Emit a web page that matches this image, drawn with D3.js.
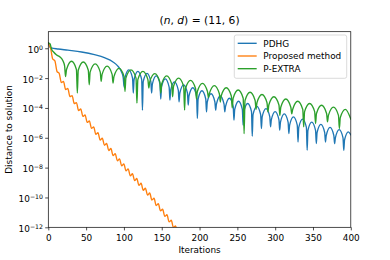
<!DOCTYPE html>
<html><head><meta charset="utf-8">
<script src="https://cdn.jsdelivr.net/npm/d3@7"></script>
<style>body{margin:0;background:#fff} svg{display:block} text{font-family:"DejaVu Sans",sans-serif;fill:#000}</style>
</head><body><svg id="c" width="390" height="260"></svg>
<script>
// ---- data ----
const xTicks = [0, 50, 100, 150, 200, 250, 300, 350, 400];
const yTickExps = [0, -2, -4, -6, -8, -10, -12];
const seriesNames = ["PDHG", "Proposed method", "P-EXTRA"];
const seriesColors = ["#1f77b4", "#ff7f0e", "#2ca02c"];
const xLabel = "Iterations";
const yLabel = "Distance to solution";

// [iteration, log10(distance)]
const pdhgPoints = [
[0,0.36],[1,0.22],[2,0.1],[4,0.02],[13,-0.05],[26,-0.13],[44,-0.25],[61,-0.43],[75,-0.65],[85.6,-0.92],[92,-1.2],[96.5,-1.55],[99,-1.95],
[100.3,-2.6],[101.3,-2.0],[106.35,-1.45],
[111.4,-2.0],[112.4,-3.0],[113.4,-2.1],[118.45,-1.55],
[123.5,-2.1],[124.5,-4.15],[125.5,-2.23],[130.55,-1.68],
[135.6,-2.23],[136.6,-3.0],[137.6,-2.4],[142.65,-1.85],
[147.7,-2.4],[148.7,-3.4],[149.7,-2.6],[154.75,-2.05],
[159.8,-2.6],[160.8,-3.48],[161.8,-2.8],[166.85,-2.25],
[171.9,-2.8],[172.9,-3.59],[173.9,-3.0],[178.95,-2.45],
[184,-3.0],[185,-3.81],[186,-3.2],[191.05,-2.65],
[196.1,-3.2],[197.1,-4.7],[198.1,-3.4],[203.15,-2.85],
[208.2,-3.4],[209.2,-4.26],[210.2,-3.6],[215.25,-3.05],
[220.3,-3.6],[221.3,-4.15],[222.3,-3.75],[227.35,-3.2],
[232.4,-3.75],[233.4,-4.26],[234.4,-3.9],[239.45,-3.35],
[244.5,-3.9],[245.5,-4.82],[246.5,-4.1],[251.55,-3.55],
[256.6,-4.1],[257.6,-5.16],[258.6,-4.25],[263.65,-3.7],
[268.7,-4.25],[269.7,-5.9],[270.7,-4.45],[275.75,-3.9],
[280.8,-4.45],[281.8,-5.38],[282.8,-4.6],[287.85,-4.05],
[292.9,-4.6],[293.9,-5.27],[294.9,-4.8],[299.95,-4.25],
[305,-4.8],[306,-5.49],[307,-4.95],[312.05,-4.4],
[317.1,-4.95],[318.1,-5.72],[319.1,-5.15],[324.15,-4.6],
[329.2,-5.15],[330.2,-6.28],[331.2,-5.3],[336.25,-4.75],
[341.3,-5.3],[342.3,-6.84],[343.3,-5.5],[348.35,-4.95],
[353.4,-5.5],[354.4,-6.39],[355.4,-5.65],[360.45,-5.1],
[365.5,-5.65],[366.5,-6.28],[367.5,-5.85],[372.55,-5.3],
[377.6,-5.85],[378.6,-6.39],[379.6,-6.0],[384.65,-5.45],
[389.7,-6.0],[390.7,-6.84],[391.7,-6.15],[396.75,-5.6],
[400,-5.8]
];

const proposedPoints = [
[0,0.33],[3,0.01],[5.85,-0.72],[8.7,-0.84],[11.55,-1.56],[14.4,-1.68],[17.25,-2.30],[20.1,-2.23],
[22.95,-2.77],[25.8,-2.70],[28.65,-3.24],[31.5,-3.17],[34.35,-3.71],[37.2,-3.64],[40.05,-4.17],[42.9,-4.07],
[45.75,-4.57],[48.6,-4.47],[51.45,-4.97],[54.3,-4.87],[57.15,-5.37],[60,-5.27],[62.85,-5.76],[65.7,-5.66],
[68.55,-6.16],[71.4,-6.03],[74.25,-6.50],[77.1,-6.38],[79.95,-6.85],[82.8,-6.72],[85.65,-7.19],[88.5,-7.06],
[91.35,-7.54],[94.2,-7.41],[97.05,-7.88],[99.9,-7.75],[102.75,-8.22],[105.6,-8.08],[108.45,-8.55],[111.3,-8.41],
[114.15,-8.87],[117,-8.73],[119.85,-9.19],[122.7,-9.05],[125.55,-9.52],[128.4,-9.38],[131.25,-9.84],[134.1,-9.70],
[136.95,-10.17],[139.8,-10.05],[142.65,-10.54],[145.5,-10.42],[148.35,-10.90],[151.2,-10.79],[154.05,-11.27],[156.9,-11.16],
[159.75,-11.64],[162.6,-11.53],[165.45,-12.01],[168.3,-11.90],[171.15,-12.38],[174,-12.26]
];

const pextraPoints = [
[0,0.36],[2.2,0.3],[4.5,-0.08],[7,-0.25],[11,-0.45],[15.5,-0.58],[19.5,-0.85],[21.6,-1.2],
[22.8,-1.9],[24.1,-1.42],[30.7,-0.87],
[37.2,-1.42],[38.4,-3.0],[39.6,-1.47],[46.25,-0.92],
[52.9,-1.47],[54.1,-2.45],[55.3,-1.6],[62,-1.05],
[68.7,-1.6],[69.9,-2.22],[71.1,-1.75],[77.75,-1.2],
[84.4,-1.75],[85.6,-2.33],[86.8,-1.9],[93.5,-1.35],
[100.2,-1.9],[101.4,-2.9],[102.6,-2.0],[109.3,-1.45],
[116,-2.0],[117.2,-3.68],[118.4,-2.1],[125.05,-1.55],
[131.7,-2.1],[132.9,-2.67],[134.1,-2.25],[140.8,-1.7],
[147.5,-2.25],[148.7,-3.0],[149.9,-2.4],[156.55,-1.85],
[163.2,-2.4],[164.4,-3.25],[165.6,-2.55],[172.3,-2.0],
[179,-2.55],[180.2,-4.15],[181.4,-2.7],[188.05,-2.15],
[194.7,-2.7],[195.9,-3.4],[197.1,-2.9],[203.8,-2.35],
[210.5,-2.9],[211.7,-3.3],[212.9,-3.05],[219.55,-2.5],
[226.2,-3.05],[227.4,-3.6],[228.6,-3.2],[235.3,-2.65],
[242,-3.2],[243.2,-4.0],[244.4,-3.35],[251.05,-2.8],
[257.7,-3.35],[258.9,-5.72],[260.1,-3.5],[266.8,-2.95],
[273.5,-3.5],[274.7,-4.1],[275.9,-3.65],[282.55,-3.1],
[289.2,-3.65],[290.4,-4.26],[291.6,-3.8],[298.3,-3.25],
[305,-3.8],[306.2,-4.5],[307.4,-3.95],[314.05,-3.4],
[320.7,-3.95],[321.9,-4.4],[323.1,-4.1],[329.8,-3.55],
[336.5,-4.1],[337.7,-5.27],[338.9,-4.25],[345.55,-3.7],
[352.2,-4.25],[353.4,-5.04],[354.6,-4.37],[361.3,-3.82],
[368,-4.37],[369.2,-4.93],[370.4,-4.5],[377.05,-3.95],
[383.7,-4.5],[384.9,-5.38],[386.1,-4.65],[392.8,-4.1],
[400,-4.75]
];

// ---- layout ----
const svg = d3.select("#c");
const L = 48.3, R = 350.8, T = 31.7, B = 227.3;
const fs = 8.9;
const x = d3.scaleLinear().domain([0, 400]).range([L, R]);
const y = d3.scaleLog().domain([1e-12, Math.pow(10, 1.11)]).range([B, T]);

svg.append("defs").append("clipPath").attr("id", "clip")
  .append("rect").attr("x", L).attr("y", T).attr("width", R - L).attr("height", B - T);

const line = d3.line()
  .x(d => x(d[0]))
  .y(d => y(Math.pow(10, d[1])))
  .curve(d3.curveMonotoneX);

const series = [pdhgPoints, proposedPoints, pextraPoints];
const g = svg.append("g").attr("clip-path", "url(#clip)");
series.forEach((pts, i) => {
  g.append("path").datum(pts).attr("d", line)
    .attr("fill", "none").attr("stroke", seriesColors[i])
    .attr("stroke-width", 1.35).attr("stroke-linejoin", "round").attr("stroke-linecap", "square");
});

// axes
const xAxis = svg.append("g").attr("transform", `translate(0,${B})`)
  .call(d3.axisBottom(x).tickValues(xTicks).tickSize(3.1).tickPadding(3.8).tickFormat(d3.format("d")));
xAxis.select(".domain").remove();
xAxis.selectAll("line").attr("stroke", "#000").attr("stroke-width", 0.7);
xAxis.selectAll("text").attr("font-size", fs).attr("font-family", "DejaVu Sans");

const yAxis = svg.append("g").attr("transform", `translate(${L},0)`)
  .call(d3.axisLeft(y).tickValues(yTickExps.map(e => Math.pow(10, e))).tickSize(3.1).tickPadding(2.2).tickFormat(() => ""));
yAxis.select(".domain").remove();
yAxis.selectAll("line").attr("stroke", "#000").attr("stroke-width", 0.7);
yAxis.selectAll(".tick text").each(function(d) {
  const e = Math.round(Math.log10(d));
  const t = d3.select(this).attr("font-size", fs).attr("font-family", "DejaVu Sans").attr("dy", "0.45em");
  t.text(null);
  t.append("tspan").text("10");
  t.append("tspan").attr("dy", "-0.48em").attr("font-size", fs * 0.7).text(e < 0 ? "\u2212" + (-e) : String(e));
});

// frame
svg.append("rect").attr("x", L).attr("y", T).attr("width", R - L).attr("height", B - T)
  .attr("fill", "none").attr("stroke", "#000").attr("stroke-width", 0.7);

// labels
svg.append("text").attr("x", (L + R) / 2).attr("y", 253.2).attr("text-anchor", "middle")
  .attr("font-size", fs).text(xLabel);
svg.append("text").attr("transform", `translate(12.4,${(T + B) / 2}) rotate(-90)`).attr("text-anchor", "middle")
  .attr("font-size", fs).text(yLabel);

// title
const tt = svg.append("text").attr("x", (L + R) / 2).attr("y", 24.3).attr("text-anchor", "middle")
  .attr("font-size", 10.7);
tt.append("tspan").text("(");
tt.append("tspan").attr("font-style", "italic").text("n");
tt.append("tspan").text(", ");
tt.append("tspan").attr("font-style", "italic").text("d");
tt.append("tspan").text(") = (11, 6)");

// legend
const lg = svg.append("g");
lg.append("rect").attr("x", 234.3).attr("y", 35).attr("width", 112.4).attr("height", 43.3)
  .attr("rx", 2).attr("fill", "#fff").attr("fill-opacity", 0.8).attr("stroke", "#cccccc").attr("stroke-width", 0.7);
const legY = [43.3, 56, 68.7];
seriesNames.forEach((n, i) => {
  lg.append("line").attr("x1", 237.7).attr("x2", 256.7).attr("y1", legY[i]).attr("y2", legY[i])
    .attr("stroke", seriesColors[i]).attr("stroke-width", 1.35);
  lg.append("text").attr("x", 263.3).attr("y", legY[i] + 3.2).attr("font-size", fs).text(n);
});
</script></body></html>
